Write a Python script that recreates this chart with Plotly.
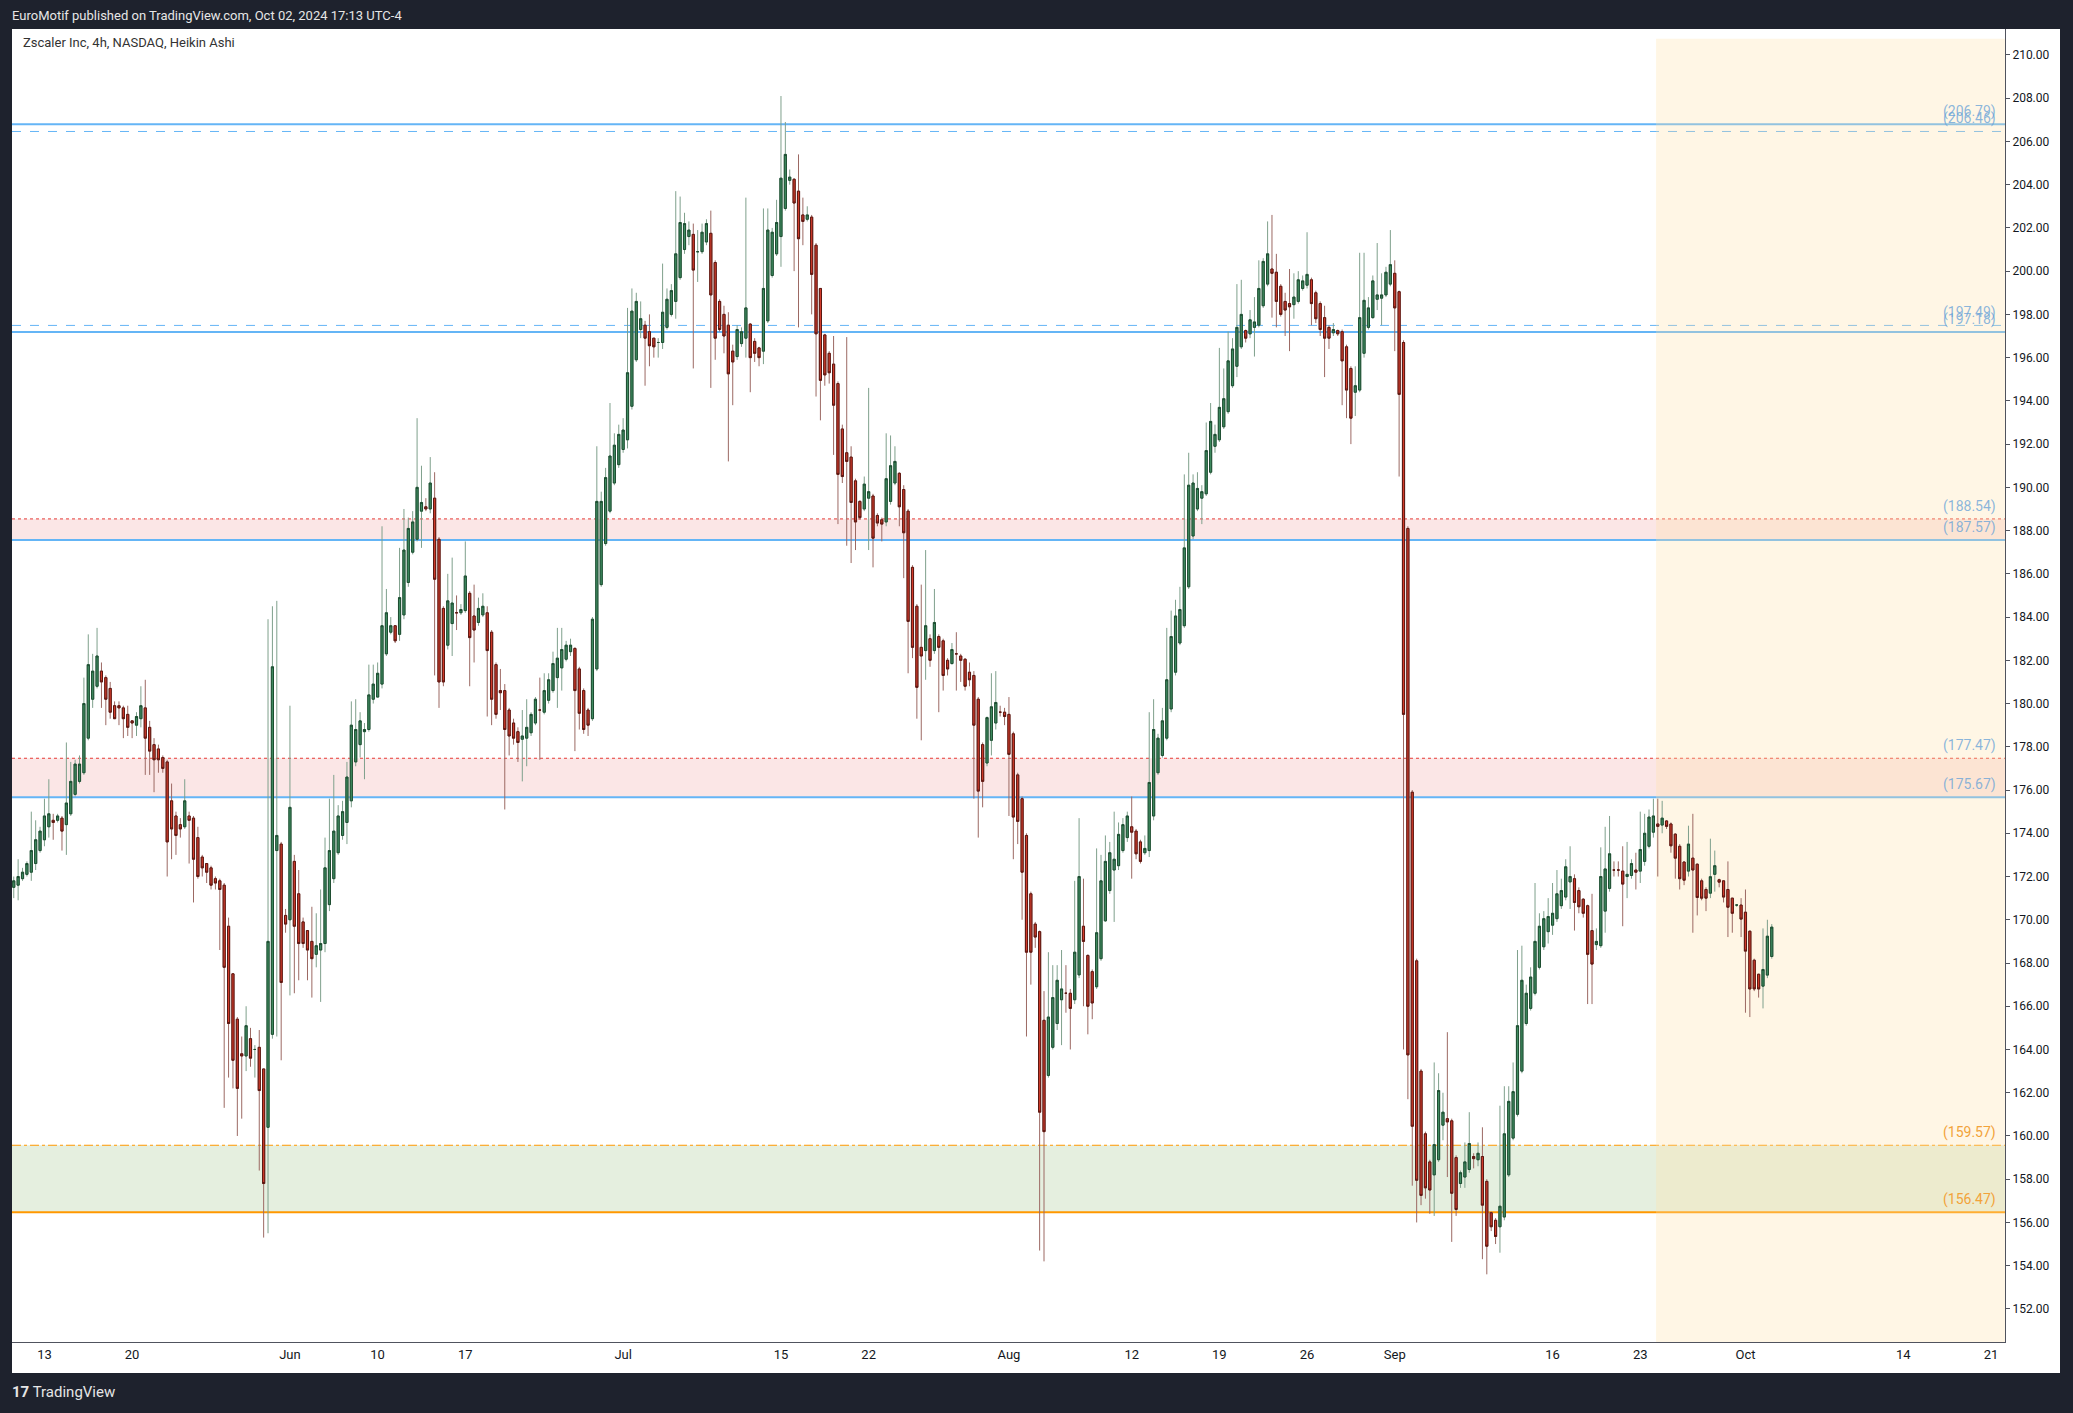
import numpy as np
import plotly.graph_objects as go

# Zscaler 4h Heikin Ashi candles, one value per bar
opens = [
    171.5, 171.6, 171.9, 172.1, 172.2, 172.6, 173.2, 173.7, 174.3, 174.6, 174.6, 174.7, 174.4, 174.9, 175.8, 176.4,
    176.8, 178.4, 180.2, 180.8, 181.5, 181.2, 180.7, 179.9, 179.9, 179.8, 179.5, 179.2, 179.0, 179.3, 179.8, 178.9,
    178.1, 177.9, 177.5, 177.3, 175.5, 174.8, 174.4, 174.3, 174.8, 174.7, 173.8, 172.9, 172.6, 172.4, 171.9, 171.8,
    171.6, 169.7, 167.5, 165.4, 163.8, 163.7, 164.5, 164.0, 164.1, 163.1, 160.4, 164.7, 173.2, 173.5, 170.2, 170.0,
    172.7, 171.2, 169.9, 169.5, 169.0, 168.4, 168.6, 168.9, 170.7, 171.9, 173.1, 173.9, 174.5, 175.5, 177.3, 178.1,
    178.7, 178.8, 180.2, 180.3, 180.9, 182.3, 183.3, 183.6, 183.2, 184.1, 185.6, 187.0, 187.6, 188.9, 189.1, 189.0,
    189.5, 187.6, 184.4, 182.7, 183.7, 184.2, 184.2, 184.3, 185.1, 184.05, 183.75, 184.1, 184.2, 183.3, 181.8, 180.6,
    180.6, 179.7, 179.1, 178.7, 178.35, 178.4, 178.65, 179.1, 179.7, 179.6, 180.15, 180.6, 181.2, 181.65, 182.05, 182.4,
    182.55, 181.6, 180.6, 179.7, 179.3, 181.6, 185.5, 187.4, 188.9, 190.2, 191.05, 191.75, 192.2, 193.75, 195.9, 197.3,
    197.5, 197.2, 196.9, 196.7, 196.7, 197.4, 198.0, 198.6, 199.7, 201.0, 201.6, 201.7, 200.9, 200.9, 201.35, 201.75,
    200.4, 198.6, 198.0, 197.5, 196.3, 196.05, 196.65, 196.9, 197.55, 196.75, 196.45, 196.3, 197.7, 199.8, 200.8, 201.6,
    202.9, 204.2, 204.25, 203.7, 202.6, 202.4, 202.5, 201.2, 199.2, 197.05, 196.2, 195.7, 194.8,
    192.7, 191.6, 191.4, 190.3, 189.35, 189.0, 189.5, 189.6, 188.7, 188.5, 188.4, 189.35, 190.2, 190.65, 189.9, 188.9,
    186.3, 184.5, 182.6, 182.45, 183.0, 182.45, 183.1, 182.9, 182.0, 181.85, 182.3, 182.2, 182.05, 181.45, 181.3, 180.2,
    178.1, 177.25, 178.3, 179.1, 179.6, 179.6, 179.5, 178.6, 176.7, 175.6, 173.9, 171.2, 169.8, 169.45, 165.35, 162.8,
    164.1, 165.2, 166.3, 166.6, 166.6, 166.3, 167.45, 169.7, 168.35, 167.6, 166.9, 168.2, 169.95, 171.35, 172.3, 172.5,
    173.2, 173.8, 174.3, 174.1, 173.6, 173.1, 173.2, 174.8, 176.8, 177.6, 178.4, 179.75, 181.45, 182.8, 183.6, 185.4,
    187.75, 189.0, 189.5, 189.7, 190.7, 191.9, 192.2, 192.8, 193.5, 194.7, 195.6, 196.5, 197.25,
    197.1, 197.4, 197.5, 198.4, 199.4, 200.1, 199.95, 199.3, 198.6, 198.5, 198.45, 198.6, 199.2, 199.35, 199.6, 199.0,
    198.5, 197.85, 197.4, 197.15, 197.25, 197.2, 196.5, 195.5, 194.4, 194.5, 196.2, 197.4, 197.85, 198.7, 198.75, 198.9,
    199.4, 199.9, 199.05, 196.7, 188.1, 175.9, 168.1, 163.0, 160.1, 158.8, 158.2, 158.9, 160.5, 160.8, 160.7, 159.0,
    157.8, 158.1, 158.45, 159.05, 158.9, 159.05, 157.9, 156.45, 156.1, 155.8, 156.25, 158.2, 159.9, 161.0, 163.0, 165.2,
    165.9, 166.6, 167.8, 168.75, 169.45, 169.75, 170.05, 170.65, 171.05, 171.75, 171.9, 171.35, 170.95, 170.65, 169.5, 168.85,
    168.8, 170.4, 171.45, 172.3, 172.3, 172.25, 172.0, 172.05, 172.3, 172.25, 172.7, 173.4, 174.05,
    174.43, 174.38, 174.57, 174.43, 173.96, 173.4, 172.67, 172.25, 172.85, 172.57, 171.8, 171.4, 171.23, 172.1, 171.85, 171.8,
    171.4, 171.0, 170.68, 170.68, 170.35, 169.47, 168.13, 167.48, 166.93, 167.44, 168.3,
]
highs = [
    172.0, 172.8, 172.4, 172.7, 175.0, 174.6, 174.3, 175.6, 176.5, 174.9, 174.9, 174.8, 178.2, 177.3, 177.4, 177.6,
    181.2, 183.2, 182.3, 183.5, 181.9, 181.3, 181.0, 180.1, 180.1, 179.9, 179.9, 179.2, 179.6, 180.8, 181.1, 179.2,
    178.4, 178.1, 177.6, 177.4, 176.3, 175.0, 174.7, 176.5, 175.0, 174.8, 174.3, 173.0, 172.6, 172.5, 172.0, 171.9,
    171.7, 170.1, 167.5, 165.5, 164.6, 166.0, 165.0, 164.2, 164.9, 163.1, 183.9, 184.5, 184.75, 173.6, 170.5, 179.9,
    173.0, 172.3, 170.1, 169.5, 170.6, 170.3, 171.4, 173.8, 175.6, 176.7, 175.3, 175.5, 177.3, 180.1, 180.2, 179.6,
    179.1, 181.8, 181.8, 181.9, 188.2, 185.3, 184.0, 183.6, 187.2, 189.0, 188.6, 188.9, 193.2, 191.0, 189.5, 191.4,
    190.7, 187.7, 184.5, 186.0, 186.75, 185.0, 184.6, 187.5, 185.2, 185.5, 184.9, 185.1, 184.5, 183.4, 181.9, 181.6,
    180.9, 179.8, 179.3, 178.9, 179.7, 180.2, 179.6, 180.3, 181.2, 181.4, 181.4, 182.4, 183.5, 183.5, 182.9, 183.0,
    182.6, 181.7, 180.7, 179.8, 184.0, 191.9, 189.8, 190.9, 193.9, 192.5, 192.9, 193.2, 198.3, 199.2, 199.0, 198.6,
    197.7, 198.0, 196.9, 196.9, 200.35, 199.2, 199.4, 203.7, 203.45, 202.7, 202.3, 202.2, 201.9, 202.2, 202.4, 202.8,
    200.5, 198.7, 198.4, 198.1, 196.6, 197.5, 197.4, 203.4, 197.6, 196.9, 196.5, 202.9, 202.9, 202.0, 203.3, 208.1,
    206.9, 204.7, 204.3, 205.4, 203.4, 203.0, 202.6, 201.3, 199.2, 197.1, 196.3, 197.0, 194.9,
    192.9, 196.95, 191.9, 190.4, 189.4, 190.5, 194.6, 189.7, 188.8, 188.6, 192.5, 192.4, 191.9, 190.7, 190.1, 189.0,
    186.4, 184.6, 185.5, 187.1, 183.2, 185.3, 183.2, 183.0, 182.1, 182.8, 183.3, 182.3, 182.1, 181.9, 181.5, 180.3,
    178.2, 179.4, 181.4, 181.5, 179.9, 179.8, 180.3, 178.7, 176.8, 175.7, 174.0, 171.3, 169.9, 169.5, 166.7, 168.5,
    167.9, 167.9, 168.6, 167.9, 166.8, 171.8, 174.7, 171.9, 168.4, 167.7, 173.3, 173.0, 173.9, 173.6, 175.0, 174.5,
    174.7, 175.0, 175.7, 174.2, 173.7, 173.9, 179.6, 180.2, 178.6, 179.8, 183.5, 184.3, 184.8, 185.4, 190.6, 191.6,
    190.6, 190.7, 190.1, 193.0, 193.9, 192.9, 196.45, 195.5, 197.2, 196.9, 199.4, 199.6, 197.3,
    198.2, 198.8, 200.5, 200.6, 202.3, 202.6, 200.8, 199.4, 199.0, 200.1, 199.9, 200.0, 199.8, 201.8, 199.7, 199.1,
    198.6, 198.4, 197.5, 197.6, 197.3, 197.3, 196.6, 195.6, 195.6, 200.85, 200.85, 198.8, 199.8, 201.3, 199.9, 200.2,
    201.9, 200.5, 199.1, 196.8, 188.2, 176.0, 168.2, 163.1, 160.2, 158.9, 163.4, 162.9, 162.0, 164.8, 160.8, 159.1,
    158.4, 159.7, 161.1, 159.2, 159.7, 160.4, 158.0, 156.5, 156.2, 161.4, 162.3, 162.3, 163.4, 168.6, 168.8, 167.0,
    167.8, 171.7, 170.3, 170.4, 171.0, 171.7, 172.3, 171.9, 172.8, 173.4, 172.1, 171.5, 171.0, 170.7, 171.2, 169.6,
    173.35, 174.3, 174.8, 172.7, 172.7, 173.4, 173.6, 172.8, 173.1, 175.0, 174.9, 175.1, 175.6,
    175.6, 175.5, 174.6, 174.5, 174.0, 173.5, 172.7, 174.35, 174.9, 172.6, 171.9, 171.5, 173.75, 173.2, 171.9, 171.8,
    172.7, 171.0, 170.7, 171.0, 171.4, 169.5, 168.2, 167.5, 169.6, 170.0, 169.8,
]
lows = [
    171.0, 170.9, 171.8, 172.0, 171.8, 172.3, 173.1, 173.4, 173.8, 173.7, 174.5, 173.2, 173.0, 174.8, 175.7, 176.3,
    176.7, 178.3, 179.8, 180.7, 179.8, 179.0, 179.3, 179.3, 179.0, 178.4, 178.5, 178.4, 178.5, 178.9, 176.7, 176.7,
    175.9, 176.8, 176.8, 172.0, 172.8, 173.0, 173.8, 174.2, 172.6, 170.8, 171.9, 172.0, 171.7, 171.4, 171.4, 168.6,
    161.3, 162.7, 162.2, 160.0, 160.8, 163.0, 163.2, 162.7, 158.4, 155.3, 155.5, 164.5, 164.6, 163.5, 169.4, 166.5,
    166.6, 167.2, 168.7, 167.2, 166.4, 167.8, 166.2, 168.5, 170.4, 171.7, 173.0, 173.7, 173.5, 175.2, 177.1, 177.5,
    176.5, 178.7, 180.0, 180.3, 180.7, 182.2, 183.2, 182.8, 182.9, 183.9, 185.4, 186.9, 187.5, 187.2, 188.9, 188.8,
    181.3, 179.8, 180.8, 182.5, 182.2, 183.4, 184.1, 184.2, 180.8, 181.9, 183.6, 184.0, 179.4, 179.0, 179.3, 179.7,
    175.1, 177.6, 178.1, 177.3, 176.4, 177.1, 178.5, 179.0, 177.4, 179.5, 180.0, 180.5, 179.8, 180.6, 181.95, 182.2,
    177.8, 178.8, 178.6, 178.5, 179.2, 181.5, 185.4, 187.3, 188.8, 190.1, 190.9, 191.6, 191.8, 193.6, 195.8, 196.9,
    194.7, 195.6, 196.0, 196.0, 196.4, 197.3, 197.9, 197.8, 199.6, 200.8, 201.2, 195.5, 199.5, 200.8, 201.2, 194.6,
    195.9, 197.2, 196.2, 191.2, 193.8, 195.9, 196.5, 196.0, 194.4, 195.8, 195.6, 195.7, 197.6, 199.7, 200.7, 200.2,
    202.8, 204.0, 200.0, 197.4, 201.2, 202.3, 198.0, 194.2, 193.1, 194.7, 194.8, 191.5, 188.3,
    190.2, 187.3, 186.5, 187.1, 188.5, 188.9, 187.1, 186.3, 188.2, 187.5, 188.2, 189.2, 190.1, 188.2, 185.8, 181.4,
    182.1, 179.3, 178.3, 181.1, 181.7, 182.3, 179.6, 180.6, 181.3, 181.8, 180.6, 181.0, 180.6, 180.8, 175.6, 173.8,
    175.2, 177.1, 177.6, 178.8, 179.4, 179.0, 174.8, 172.8, 173.5, 170.0, 164.6, 167.0, 168.7, 154.7, 154.2, 162.7,
    164.0, 164.9, 164.2, 165.7, 164.0, 166.1, 167.3, 166.0, 164.7, 165.4, 166.8, 168.1, 169.9, 171.2, 169.9, 172.3,
    173.1, 173.6, 171.9, 172.8, 172.6, 173.0, 172.9, 174.6, 176.7, 177.5, 178.3, 179.6, 181.3, 182.7, 183.5, 185.3,
    187.6, 188.9, 188.3, 189.6, 190.6, 191.6, 192.1, 192.7, 193.4, 194.6, 195.1, 196.4, 196.7,
    196.9, 196.05, 197.4, 198.3, 199.3, 197.85, 197.4, 197.9, 197.0, 196.3, 197.8, 198.5, 199.1, 199.2, 197.5, 197.6,
    197.0, 195.1, 196.4, 197.0, 197.0, 193.8, 193.2, 192.0, 193.3, 194.4, 196.0, 197.3, 197.8, 198.2, 197.5, 198.8,
    199.3, 196.3, 190.5, 164.0, 161.7, 157.7, 156.0, 156.8, 157.1, 156.4, 156.3, 158.8, 159.8, 158.1, 155.1, 156.3,
    157.6, 157.6, 158.3, 158.5, 158.6, 154.3, 153.6, 155.6, 155.0, 154.6, 156.1, 158.1, 159.8, 160.9, 162.9, 165.1,
    165.8, 166.5, 167.7, 168.6, 168.9, 169.3, 169.9, 170.5, 170.9, 170.5, 169.5, 170.3, 170.1, 166.1, 166.1, 168.6,
    168.7, 169.4, 171.3, 172.0, 172.0, 169.7, 171.0, 171.9, 171.4, 171.7, 172.5, 173.3, 173.8,
    172.0, 174.0, 174.2, 173.1, 171.9, 171.4, 171.6, 172.0, 169.4, 170.2, 170.9, 170.4, 171.0, 171.3, 171.5, 170.8,
    169.2, 169.4, 170.6, 169.2, 165.7, 165.5, 166.7, 166.4, 165.9, 167.3, 168.2,
]
closes = [
    171.8, 172.0, 172.2, 172.6, 173.2, 173.7, 174.1, 174.8, 174.9, 174.5, 174.8, 174.1, 175.4, 176.4, 177.2, 177.2,
    180.0, 181.8, 181.5, 182.2, 181.0, 180.2, 179.6, 179.3, 179.8, 179.3, 178.9, 179.1, 179.4, 179.9, 178.4, 177.8,
    177.4, 177.4, 177.0, 173.6, 174.2, 173.9, 174.2, 175.5, 174.6, 172.8, 172.0, 172.4, 172.2, 171.6, 171.7, 171.4,
    167.8, 165.2, 163.5, 162.2, 163.7, 165.1, 163.6, 164.0, 162.1, 157.8, 169.0, 181.7, 173.9, 167.1, 169.8, 175.2,
    169.7, 168.9, 168.9, 168.6, 168.2, 168.8, 168.9, 172.4, 173.2, 174.1, 174.8, 175.0, 176.6, 179.0, 178.8, 179.2,
    178.8, 180.4, 180.9, 181.4, 183.6, 184.2, 183.6, 182.9, 184.9, 187.1, 188.1, 188.4, 190.0, 189.3, 189.0, 190.2,
    185.75, 181.0, 181.0, 184.75, 184.65, 184.2, 184.35, 185.9, 183.05, 183.4, 184.4, 184.5, 182.45, 180.2, 179.5, 180.5,
    178.8, 178.5, 178.4, 178.2, 178.5, 178.9, 179.5, 180.2, 179.7, 180.6, 181.1, 181.85, 182.1, 182.5, 182.7, 182.7,
    180.6, 179.55, 178.8, 179.0, 183.9, 189.35, 189.35, 190.45, 191.45, 191.95, 192.45, 192.65, 195.3, 198.15, 198.6, 197.8,
    196.9, 196.55, 196.5, 196.7, 198.1, 198.7, 199.1, 200.8, 202.25, 202.2, 201.9, 200.05, 200.9, 201.8, 202.2, 198.9,
    196.9, 197.3, 197.0, 195.25, 195.8, 197.3, 197.2, 198.3, 196.0, 196.2, 196.0, 199.2, 201.9, 201.8, 202.25, 204.3,
    205.4, 204.35, 203.15, 201.5, 202.3, 202.6, 199.85, 197.1, 194.95, 195.2, 195.3, 193.8, 190.6,
    190.5, 191.2, 189.3, 188.4, 188.6, 190.15, 189.8, 187.65, 188.35, 188.3, 190.4, 191.0, 191.2, 189.1, 187.9, 183.8,
    182.6, 180.75, 182.2, 183.6, 182.0, 183.75, 182.6, 181.3, 181.6, 182.5, 182.3, 182.0, 180.8, 181.1, 179.0, 175.95,
    176.4, 179.35, 179.85, 180.05, 179.6, 179.4, 177.65, 174.75, 174.55, 172.2, 168.5, 168.5, 169.2, 161.1, 160.2, 165.5,
    166.4, 167.2, 166.8, 166.6, 165.9, 168.5, 172.0, 169.0, 166.0, 166.15, 169.4, 171.8, 172.7, 173.1, 172.8, 173.95,
    174.4, 174.8, 174.05, 173.05, 172.7, 173.3, 176.35, 178.8, 178.4, 179.2, 181.1, 183.1, 184.05, 184.35, 187.2, 190.1,
    190.2, 189.95, 189.8, 191.7, 193.05, 192.45, 193.7, 194.1, 195.85, 196.4, 197.4, 198.0, 196.9,
    197.75, 197.65, 199.2, 200.45, 200.8, 199.9, 198.6, 198.0, 198.2, 198.35, 198.8, 199.6, 199.55, 199.85, 198.5, 197.8,
    197.3, 196.9, 196.9, 197.3, 197.1, 195.85, 194.5, 193.2, 194.7, 197.85, 198.65, 198.3, 199.55, 198.9, 198.9, 199.95,
    200.3, 198.3, 194.3, 179.5, 163.75, 160.45, 157.95, 157.25, 157.6, 157.5, 159.6, 162.1, 161.1, 160.65, 157.35, 156.6,
    158.3, 158.8, 159.65, 158.95, 159.2, 156.8, 154.9, 155.8, 155.35, 156.75, 160.1, 161.6, 162.05, 165.1, 167.2, 166.6,
    167.35, 169.0, 169.7, 170.05, 170.15, 170.3, 171.2, 171.35, 172.45, 172.0, 170.8, 170.6, 170.3, 168.4, 167.95, 169.0,
    172.0, 172.35, 173.05, 172.3, 172.3, 171.65, 172.1, 172.6, 172.2, 173.25, 174.0, 174.75, 174.8,
    174.32, 174.7, 174.32, 173.42, 172.85, 171.9, 171.83, 173.5, 172.3, 171.03, 171.0, 171.0, 171.99, 172.5, 171.74, 171.05,
    170.58, 170.3, 170.68, 170.03, 168.55, 166.8, 166.8, 166.8, 167.7, 169.24, 169.66,
]

# support / resistance levels drawn on the chart
blue_solid = [206.79, 197.18, 187.57, 175.67]
blue_dashed = [206.46, 197.49]
red_zones = [(188.54, 187.57), (177.47, 175.67)]
green_zone = (159.57, 156.47)
level_labels = [206.79, 206.46, 197.49, 197.18, 188.54, 187.57, 177.47, 175.67]
orange_labels = [159.57, 156.47]

# x axis: one bar per 4h of extended session, 4 bars per trading day
tick_dates = ["2024-05-13", "2024-05-20", "2024-06-03", "2024-06-10", "2024-06-17", "2024-07-01",
              "2024-07-15", "2024-07-22", "2024-08-01", "2024-08-12", "2024-08-19", "2024-08-26",
              "2024-09-03", "2024-09-16", "2024-09-23", "2024-10-01", "2024-10-14", "2024-10-21"]
tick_text = ["13", "20", "Jun", "10", "17", "Jul", "15", "22", "Aug", "12", "19", "26",
             "Sep", "16", "23", "Oct", "14", "21"]
holidays = ["2024-05-27", "2024-06-19", "2024-07-04", "2024-09-02"]
first_bar_may13 = 7
tick_vals = [first_bar_may13 + 4 * int(np.busday_count("2024-05-13", d, holidays=holidays)) for d in tick_dates]

x = list(range(len(closes)))
o = np.array(opens)
c = np.array(closes)
body_hi = np.maximum(o, c)
body_lo = np.minimum(o, c)

fig = go.Figure()

# wicks (lighter colours)
fig.add_trace(go.Candlestick(
    x=x, open=opens, high=highs, low=lows, close=closes,
    increasing=dict(line=dict(color="#7fa08c", width=1), fillcolor="#7fa08c"),
    decreasing=dict(line=dict(color="#9c6963", width=1), fillcolor="#9c6963"),
    whiskerwidth=0, hoverinfo="skip", showlegend=False,
))
# bodies with dark outline
fig.add_trace(go.Candlestick(
    x=x, open=opens, high=body_hi, low=body_lo, close=closes,
    increasing=dict(line=dict(color="#1d4d31", width=1), fillcolor="#3f8b60"),
    decreasing=dict(line=dict(color="#5a1711", width=1), fillcolor="#d13b2b"),
    whiskerwidth=0, showlegend=False,
))

shapes = []
# white panels for the axes
shapes.append(dict(type="rect", xref="paper", yref="paper", x0=1, x1=1.0276, y0=-0.0236, y1=1,
                   fillcolor="white", line_width=0, layer="below"))
shapes.append(dict(type="rect", xref="paper", yref="paper", x0=0, x1=1.0276, y0=-0.0236, y1=0,
                   fillcolor="white", line_width=0, layer="below"))
for top, bot in red_zones:
    shapes.append(dict(type="rect", xref="paper", yref="y", x0=0, x1=1, y0=bot, y1=top,
                       fillcolor="#fbe6e6", line_width=0, layer="below"))
    shapes.append(dict(type="line", xref="paper", yref="y", x0=0, x1=1, y0=top, y1=top,
                       line=dict(color="#e53935", width=1, dash="dot"), layer="below"))
shapes.append(dict(type="rect", xref="paper", yref="y", x0=0, x1=1, y0=green_zone[1], y1=green_zone[0],
                   fillcolor="#e5efdf", line_width=0, layer="below"))
shapes.append(dict(type="line", xref="paper", yref="y", x0=0, x1=1, y0=green_zone[0], y1=green_zone[0],
                   line=dict(color="#ff9800", width=1, dash="dashdot"), layer="below"))
shapes.append(dict(type="line", xref="paper", yref="y", x0=0, x1=1, y0=green_zone[1], y1=green_zone[1],
                   line=dict(color="#ff9800", width=2), layer="below"))
# projection area
shapes.append(dict(type="rect", xref="x", yref="y", x0=374.6, x1=460, y0=148, y1=210.75,
                   fillcolor="rgba(255,224,170,0.3)", line_width=0, layer="below"))
for lv in blue_dashed:
    shapes.append(dict(type="line", xref="paper", yref="y", x0=0, x1=1, y0=lv, y1=lv,
                       line=dict(color="#64b5f6", width=1, dash="dash"), layer="below"))
for lv in blue_solid:
    shapes.append(dict(type="line", xref="paper", yref="y", x0=0, x1=1, y0=lv, y1=lv,
                       line=dict(color="#64b5f6", width=2), layer="below"))

annotations = []
for lv in level_labels:
    annotations.append(dict(xref="paper", yref="y", x=0.9965, y=lv, xanchor="right", yanchor="bottom",
                            text=f"({lv:.2f})", showarrow=False, yshift=2,
                            font=dict(size=14, color="rgba(100,160,215,0.75)")))
for lv in orange_labels:
    annotations.append(dict(xref="paper", yref="y", x=0.9965, y=lv, xanchor="right", yanchor="bottom",
                            text=f"({lv:.2f})", showarrow=False, yshift=2,
                            font=dict(size=14, color="#f2a33a")))
annotations.append(dict(xref="paper", yref="paper", x=0.0045, y=0.997, xanchor="left", yanchor="top",
                        text="Zscaler Inc, 4h, NASDAQ, Heikin Ashi", showarrow=False,
                        font=dict(size=13, color="#333333")))
annotations.append(dict(xref="paper", yref="paper", x=-0.001, y=1.0, xanchor="left", yanchor="bottom",
                        yshift=4, text="EuroMotif published on TradingView.com, Oct 02, 2024 17:13 UTC-4",
                        showarrow=False, font=dict(size=13, color="#e6e6e6")))
annotations.append(dict(xref="paper", yref="paper", x=-0.001, y=-0.0236, xanchor="left", yanchor="top",
                        yshift=-8, text="<b>17</b> TradingView", showarrow=False,
                        font=dict(size=15, color="#e6e6e6")))

fig.update_layout(
    width=2073, height=1413,
    margin=dict(l=12, r=68, t=29, b=71),
    paper_bgcolor="#1e222d",
    plot_bgcolor="white",
    font=dict(family="Roboto", size=13, color="#131722"),
    shapes=shapes,
    annotations=annotations,
    showlegend=False,
)
fig.update_xaxes(
    range=[-0.4, 454.2], rangeslider_visible=False, showgrid=False, zeroline=False,
    tickmode="array", tickvals=tick_vals, ticktext=tick_text, ticks="",
    showline=True, linecolor="#50535e", linewidth=1, tickfont=dict(size=13, color="#131722"),
)
fig.update_yaxes(
    range=[150.47, 211.2], side="right", dtick=2, tickformat=".2f", showgrid=False, zeroline=False,
    ticks="outside", ticklen=4, tickcolor="#50535e",
    showline=True, linecolor="#50535e", linewidth=1, tickfont=dict(size=12, color="#131722"),
)

# drop the page's default body margin so the figure sits flush in the window
fig.write_html("out.html", config={"displayModeBar": False},
               post_script="document.body.style.margin='0';"
                           "document.body.style.background='#1e222d';")
